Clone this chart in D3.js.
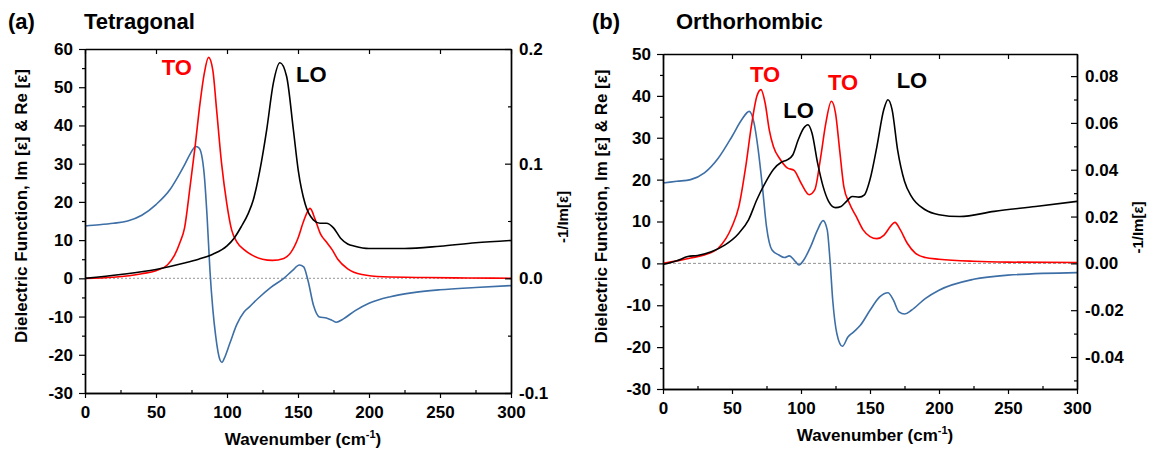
<!DOCTYPE html>
<html>
<head>
<meta charset="utf-8">
<script src="https://cdn.jsdelivr.net/npm/d3@7/dist/d3.min.js"></script>
<style>
  body { margin: 0; background: #fff; }
  svg text { font-family: Arial, "Liberation Sans", sans-serif; font-weight: bold; }
</style>
</head>
<body>
<svg id="chart" width="1158" height="453"></svg>
<script>
/*
Dielectric function, two panels
Re[eps] (blue), Im[eps] (red) on left axis, loss -1/Im (black) on right axis
*/

// ---- Data: (a) Tetragonal, [wavenumber, value] ----
var tetraRe = [[0,13.7],[10,14.0],[20,14.4],[30,15.0],[40,16.5],[50,19.3],[60,23.3],[65,26.3],[70,29.6],[74,32.5],
  [78,34.5],[80,34.2],[82,32.5],[84,27],[86,16],[88,2],[90,-8],[92,-15],[95,-21.3],[96.5,-22],[98,-21],[102,-17],
  [107,-12],[112,-8.8],[116,-7.4],[122,-5.2],[130,-2.6],[140,0],[146,2],[151,3.5],[154,3],[157,-0.5],[161,-7.2],
  [165,-10.1],[170,-10.4],[174,-11],[177,-11.5],[182,-10.6],[190,-8.5],[200,-6.5],[215,-4.8],[230,-3.8],[250,-3.0],
  [275,-2.4],[300,-1.9]];
var tetraIm = [[0,0],[20,0.3],[40,1.2],[50,2.0],[58,3.5],[63,6],[67,9.5],[70,13],[74,24],[77.5,34.4],[81,45.8],
  [84,53.6],[87,57.8],[90,54.5],[92.7,44],[96.2,30],[99.8,19.7],[103.3,12.6],[107,9.5],[112,7.5],[118,6],[125,5],
  [132,4.7],[140,5.2],[145,6.8],[150,10.5],[154,15],[158.5,18.3],[162,15.5],[166,11.5],[170,9.5],[174,7.5],[178,5.0],
  [185,2.5],[195,1.0],[210,0.4],[240,0.2],[270,0.1],[300,0]];
var tetraLoss = [[0,0],[25,0.0033],[50,0.0077],[70,0.0133],[80,0.0167],[90,0.021],[100,0.0283],[105,0.035],
  [110,0.045],[115,0.0567],[118.5,0.0683],[123,0.0933],[128,0.13],[132.6,0.17],[137.3,0.188],[142,0.176],
  [146.7,0.13],[150.2,0.094],[155,0.065],[160.8,0.051],[165.5,0.048],[170,0.048],[175,0.044],[180,0.035],
  [185,0.03],[190,0.028],[200,0.026],[225,0.026],[250,0.028],[275,0.031],[300,0.033]];
var tetraLabels = [["TO",54,53.2],["LO",148.6,51.4]];

// ---- Data: (b) Orthorhombic ----
var orthoRe = [[0,19.2],[10,19.6],[20,20.0],[30,21.6],[40,25.1],[50,30.3],[57,34.3],[62.5,36.3],[66,33.5],[69,27.1],
  [72,18.4],[75,8.8],[79,3.2],[84,2.0],[88,1.4],[91.5,1.8],[96,0.4],[98.5,-0.4],[102,0.8],[107,4.0],[112,8.0],
  [116,10.2],[119,8.0],[121,0.8],[123,-8.8],[126,-16.8],[130,-19.8],[134,-17.6],[138,-16.4],[143,-14.8],[150,-11.2],
  [157,-8.0],[163,-7.0],[167,-8.8],[171,-11.6],[175,-12.1],[180,-11.2],[190,-8.4],[200,-6.4],[225,-3.8],[250,-2.8],
  [300,-2.2]];
var orthoIm = [[0,0],[10,0.6],[20,1.3],[30,2.0],[40,3.6],[50,8.8],[55,13.6],[60,23.2],[64,32.7],[68,39.9],[71,41.5],
  [74,38.3],[77,31.9],[80,27.9],[85,24.8],[90,22.8],[95,22.2],[100,19.2],[106,16.4],[110,17.6],[114,24.8],[118,33.5],
  [122,38.7],[125,35.9],[128,27.1],[131,18.4],[135,14.4],[140,11.2],[145,8.0],[150,6.4],[155,5.9],[160,6.7],[165,8.9],
  [168,9.8],[172,8.0],[177,4.8],[183,2.4],[190,1.4],[200,1.0],[225,0.5],[250,0.3],[300,0.2]];
var orthoLoss = [[0,-0.0005],[10,0.0011],[18,0.0029],[25,0.0034],[35,0.005],[45,0.0079],[55,0.0129],[62,0.0186],
  [68,0.0272],[74,0.0343],[80,0.0401],[86,0.0433],[90,0.0442],[94,0.0463],[98,0.0528],[102,0.0578],[105,0.0592],
  [108,0.0556],[112,0.0429],[116,0.0329],[120,0.0265],[125,0.0238],[129,0.0243],[133,0.0265],[137,0.0286],
  [142,0.0283],[146,0.0293],[150,0.0358],[155,0.0499],[160,0.0657],[163,0.0699],[166,0.0657],[170,0.0485],
  [175,0.0351],[180,0.0286],[190,0.0229],[200,0.0208],[215,0.02],[240,0.0222],[270,0.0243],[300,0.0265]];
var orthoLabels = [["TO",63,43.3],["LO",87.2,34.7],["TO",119.6,41.4],["LO",169.3,41.8]];

// ---- Axis ticks ----
var xTicks = [0, 50, 100, 150, 200, 250, 300];
var xMinor = [25, 75, 125, 175, 225, 275];
var tetraYTicks = [-30, -20, -10, 0, 10, 20, 30, 40, 50, 60];
var tetraY2Ticks = [-0.1, 0, 0.1, 0.2];
var tetraY2Minor = [-0.05, 0.05, 0.15];
var orthoYTicks = [-30, -20, -10, 0, 10, 20, 30, 40, 50];
var orthoY2Ticks = [-0.04, -0.02, 0, 0.02, 0.04, 0.06, 0.08];
var orthoY2Minor = [-0.05, -0.03, -0.01, 0.01, 0.03, 0.05, 0.07];

var BLUE = "#3d6fa6", RED = "#ff0000", BLACK = "#000";

var svg = d3.select("#chart");

function translate(x, y) { return "translate(" + x + "," + y + ")"; }

function midpoints(t) {
  var out = [];
  for (var i = 0; i < t.length - 1; i++) out.push((t[i] + t[i + 1]) / 2);
  return out;
}

function drawPanel(p) {
  var g = svg.append("g").attr("transform", translate(p.x0, p.y0));

  var x = d3.scaleLinear().domain([0, 300]).range([0, p.w]);
  var y = d3.scaleLinear().domain(p.yDom).range([p.h, 0]);
  var y2 = d3.scaleLinear().domain(p.y2Dom).range([p.h, 0]);

  // zero reference line
  g.append("line")
    .attr("x1", 0).attr("x2", p.w)
    .attr("y1", y(0)).attr("y2", y(0))
    .style("stroke", p.zeroColor)
    .style("stroke-width", p.zeroWidth)
    .style("stroke-dasharray", p.zeroDash);

  var line = d3.line().x(function(d) { return x(d[0]); }).y(function(d) { return y(d[1]); })
    .curve(d3.curveMonotoneX);
  var line2 = d3.line().x(function(d) { return x(d[0]); }).y(function(d) { return y2(d[1]); })
    .curve(d3.curveMonotoneX);

  g.append("path").attr("d", line(p.re)).style("fill", "none").style("stroke", BLUE).style("stroke-width", 1.6);
  g.append("path").attr("d", line(p.im)).style("fill", "none").style("stroke", RED).style("stroke-width", 1.6);
  g.append("path").attr("d", line2(p.loss)).style("fill", "none").style("stroke", BLACK).style("stroke-width", 1.6);

  // mode labels
  g.selectAll("text.mode").data(p.labels).enter().append("text")
    .attr("class", "mode")
    .attr("x", function(d) { return x(d[1]); })
    .attr("y", function(d) { return y(d[2]); })
    .style("font-size", "22px")
    .style("fill", function(d) { return d[0] == "TO" ? RED : BLACK; })
    .text(function(d) { return d[0]; });

  // axes
  var axes = [];
  axes.push(g.append("g").call(d3.axisLeft(y).tickValues(p.yTicks).tickSize(6).tickPadding(6)
    .tickSizeOuter(0).tickFormat(function(d) { return String(d); })));
  axes.push(g.append("g").call(d3.axisLeft(y).tickValues(midpoints(p.yTicks)).tickSize(3)
    .tickSizeOuter(0).tickFormat("")));
  axes.push(g.append("g").attr("transform", translate(0, p.h))
    .call(d3.axisBottom(x).tickValues(xTicks).tickSize(5).tickPadding(8).tickSizeOuter(0)));
  axes.push(g.append("g").attr("transform", translate(0, p.h))
    .call(d3.axisBottom(x).tickValues(xMinor).tickSize(-3).tickSizeOuter(0).tickFormat("")));
  axes.push(g.append("g")
    .call(d3.axisTop(x).tickValues(xTicks).tickSize(-5).tickSizeOuter(0).tickFormat("")));
  axes.push(g.append("g").attr("transform", translate(p.w, 0))
    .call(d3.axisRight(y2).tickValues(p.y2Ticks).tickSize(-6).tickPadding(8).tickSizeOuter(0)
      .tickFormat(function(d) { return d.toFixed(p.y2Digits); })));
  axes.push(g.append("g").attr("transform", translate(p.w, 0))
    .call(d3.axisRight(y2).tickValues(p.y2Minor).tickSize(-3).tickSizeOuter(0).tickFormat("")));

  axes.forEach(function(a) {
    a.selectAll("path.domain").style("stroke", "#000").style("stroke-width", 1.4);
    a.selectAll(".tick line").style("stroke", "#000").style("stroke-width", 1.2);
    a.selectAll(".tick text").style("font-size", "17px").style("font-family", null).style("fill", "#000");
    a.attr("font-family", null).attr("font-size", null);
  });

  // axis titles
  g.append("text")
    .attr("transform", translate(p.yTitleX, p.h / 2 - 15) + " rotate(-90)")
    .style("text-anchor", "middle")
    .style("font-size", "17px")
    .text("Dielectric Function, Im [\u03b5] & Re [\u03b5]");

  g.append("text")
    .attr("transform", translate(p.w + p.y2TitleX, p.h / 2 + p.y2TitleDy) + " rotate(-90)")
    .style("text-anchor", "middle")
    .style("font-size", "15px")
    .text("-1/Im[\u03b5]");

  var xt = g.append("text")
    .attr("x", p.w / 2 + 5)
    .attr("y", p.h + 52)
    .style("text-anchor", "middle")
    .style("font-size", "17px");
  xt.append("tspan").text("Wavenumber (cm");
  xt.append("tspan").attr("dy", -7).style("font-size", "11px").text("-1");
  xt.append("tspan").attr("dy", 7).text(")");

  // panel titles
  svg.append("text").attr("x", p.tagX).attr("y", 29).style("font-size", "22px").text(p.tag);
  svg.append("text").attr("x", p.nameX).attr("y", 29).style("font-size", "22px").text(p.name);
}

drawPanel({
  x0: 85, y0: 49, w: 426, h: 344,
  yDom: [-30, 60], y2Dom: [-0.1, 0.2],
  yTicks: tetraYTicks, y2Ticks: tetraY2Ticks, y2Minor: tetraY2Minor, y2Digits: 1,
  re: tetraRe, im: tetraIm, loss: tetraLoss, labels: tetraLabels,
  zeroColor: "#aaa", zeroWidth: 1.3, zeroDash: "2,2",
  yTitleX: -58, y2TitleX: 57, y2TitleDy: -4,
  tag: "(a)", tagX: 8, name: "Tetragonal", nameX: 84
});

drawPanel({
  x0: 663, y0: 54, w: 414, h: 335,
  yDom: [-30, 50], y2Dom: [-30 / 559, 50 / 559],
  yTicks: orthoYTicks, y2Ticks: orthoY2Ticks, y2Minor: orthoY2Minor, y2Digits: 2,
  re: orthoRe, im: orthoIm, loss: orthoLoss, labels: orthoLabels,
  zeroColor: "#777", zeroWidth: 0.8, zeroDash: "3,2",
  yTitleX: -56, y2TitleX: 66, y2TitleDy: 6,
  tag: "(b)", tagX: 592, name: "Orthorhombic", nameX: 676
});
</script>
</body>
</html>
